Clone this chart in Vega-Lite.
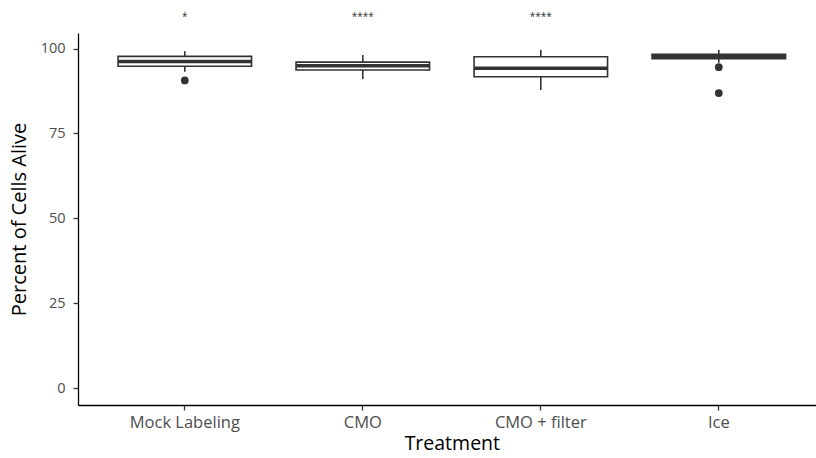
{
  "$schema": "https://vega.github.io/schema/vega-lite/v6.json",
  "width": 738,
  "height": 372,
  "autosize": {"type": "none"},
  "padding": {"left": 78, "top": 33, "right": 0, "bottom": 53},
  "background": "white",
  "datasets": {
    "stats": [
      {"treatment": "Mock Labeling", "lower": 93.2, "q1": 94.8, "median": 96.2, "q3": 97.7, "upper": 99.2, "sig": "*", "sigy": 109.3},
      {"treatment": "CMO", "lower": 91.0, "q1": 93.7, "median": 94.9, "q3": 96.0, "upper": 98.1, "sig": "****", "sigy": 109.3},
      {"treatment": "CMO + filter", "lower": 87.8, "q1": 91.7, "median": 94.2, "q3": 97.6, "upper": 99.6, "sig": "****", "sigy": 109.3},
      {"treatment": "Ice", "lower": 95.8, "q1": 97.0, "median": 97.6, "q3": 98.3, "upper": 99.6, "sig": "", "sigy": 109.3}
    ],
    "outliers": [
      {"treatment": "Mock Labeling", "value": 90.6},
      {"treatment": "Ice", "value": 94.5},
      {"treatment": "Ice", "value": 86.9}
    ]
  },
  "config": {
    "view": {"stroke": null},
    "font": "Open Sans",
    "axis": {
      "grid": false,
      "domainColor": "black",
      "domainWidth": 1.3,
      "tickColor": "#333333",
      "tickWidth": 1.3,
      "tickSize": 5,
      "labelColor": "#4D4D4D",
      "labelFont": "Open Sans",
      "titleFont": "Open Sans",
      "titleFontWeight": "normal",
      "titleColor": "black"
    }
  },
  "encoding": {
    "x": {
      "field": "treatment",
      "type": "nominal",
      "sort": ["Mock Labeling", "CMO", "CMO + filter", "Ice"],
      "scale": {"type": "band", "paddingInner": 0, "paddingOuter": 0.1, "range": [0, 747.6]},
      "axis": {"title": "Treatment", "labelAngle": 0, "labelFontSize": 16.5, "labelPadding": 4, "titleFontSize": 19.5, "titlePadding": 4}
    }
  },
  "layer": [
    {
      "data": {"name": "stats"},
      "mark": {"type": "rule", "color": "#333333", "strokeWidth": 1.6},
      "encoding": {
        "y": {
          "field": "lower",
          "type": "quantitative",
          "scale": {"domain": [-4.98, 104.58], "nice": false, "zero": false},
          "axis": {"title": "Percent of Cells Alive", "values": [0, 25, 50, 75, 100], "labelFontSize": 14.5, "labelPadding": 8, "titleFontSize": 20, "titlePadding": 11}
        },
        "y2": {"field": "upper"}
      }
    },
    {
      "data": {"name": "stats"},
      "mark": {"type": "bar", "fill": "white", "stroke": "#333333", "strokeWidth": 1.6, "width": {"band": 0.75}},
      "encoding": {
        "y": {"field": "q1", "type": "quantitative"},
        "y2": {"field": "q3"}
      }
    },
    {
      "data": {"name": "stats"},
      "mark": {"type": "tick", "color": "#333333", "thickness": 3.5, "size": 133.5, "opacity": 1},
      "encoding": {
        "y": {"field": "median", "type": "quantitative"}
      }
    },
    {
      "data": {"name": "outliers"},
      "mark": {"type": "point", "filled": true, "color": "#333333", "size": 60, "opacity": 1},
      "encoding": {
        "y": {"field": "value", "type": "quantitative"}
      }
    },
    {
      "data": {"name": "stats"},
      "mark": {"type": "text", "color": "#333333", "fontSize": 10, "baseline": "middle"},
      "encoding": {
        "y": {"field": "sigy", "type": "quantitative"},
        "text": {"field": "sig"}
      }
    }
  ]
}
